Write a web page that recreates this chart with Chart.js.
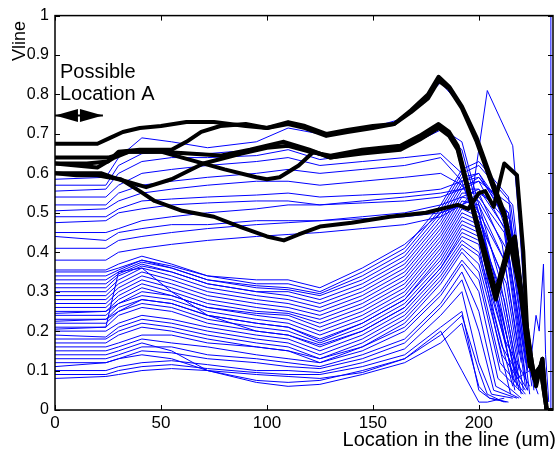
<!DOCTYPE html>
<html>
<head>
<meta charset="utf-8">
<script src="https://cdn.jsdelivr.net/npm/chart.js@4/dist/chart.umd.min.js"></script>
<style>
  html, body { margin: 0; padding: 0; background: #fff; }
</style>
</head>
<body>
<canvas id="chart" width="558" height="449"></canvas>
<script>
// tick labels
const xTicks = [0, 50, 100, 150, 200];
const yTicks = [0, 0.1, 0.2, 0.3, 0.4, 0.5, 0.6, 0.7, 0.8, 0.9, 1];
const yTickLabels = ['0', '0.1', '0.2', '0.3', '0.4', '0.5', '0.6', '0.7', '0.8', '0.9', '1'];

// shared x locations of the thin blue runs (um), up to the peak region
const locs = [0, 24, 30, 41, 55, 72, 95, 110, 125, 145, 165, 182, 192, 200];

// thin blue runs: Vline at each of locs, then the two tail values
const blueRuns = [
  [.08, .085, .09, .10, .105, .10, .09, .085, .08, .095, .13, .20, .10, .02, .02, .03],
  [.09, .09, .10, .11, .115, .105, .095, .09, .09, .11, .14, .21, .25, .05, .03, .02],
  [.10, .10, .11, .12, .125, .115, .10, .10, .095, .12, .155, .24, .30, .12, .04, .03],
  [.11, .12, .13, .14, .13, .10, .07, .06, .065, .09, .12, .17, .22, .06, .03, .02],
  [.12, .12, .13, .15, .145, .13, .12, .11, .105, .13, .17, .26, .33, .20, .05, .03],
  [.13, .13, .14, .16, .16, .14, .13, .12, .11, .14, .18, .27, .35, .25, .06, .03],
  [.14, .14, .15, .17, .15, .10, .075, .07, .075, .10, .13, .19, .24, .10, .04, .02],
  [.15, .15, .16, .18, .17, .16, .14, .13, .12, .15, .20, .29, .37, .30, .08, .03],
  [.16, .16, .17, .19, .19, .17, .16, .15, .13, .16, .21, .30, .38, .33, .10, .04],
  [.17, .17, .19, .21, .20, .18, .16, .15, .12, .16, .22, .32, .40, .35, .12, .04],
  [.18, .18, .20, .22, .21, .19, .17, .16, .13, .17, .23, .33, .41, .37, .14, .05],
  [.19, .185, .21, .23, .22, .20, .18, .17, .14, .18, .24, .34, .42, .39, .16, .05],
  [.20, .20, .22, .24, .23, .21, .19, .18, .15, .19, .25, .35, .43, .40, .18, .06],
  [.205, .21, .35, .36, .30, .24, .20, .19, .16, .20, .26, .36, .44, .42, .20, .04],
  [.21, .21, .24, .26, .25, .22, .20, .19, .165, .20, .26, .36, .45, .43, .22, .07],
  [.22, .22, .25, .27, .26, .23, .21, .20, .17, .21, .27, .37, .46, .44, .24, .05],
  [.225, .23, .25, .28, .27, .24, .22, .21, .175, .22, .28, .38, .47, .45, .26, .08],
  [.23, .23, .26, .28, .27, .24, .22, .21, .18, .22, .28, .39, .48, .46, .28, .04],
  [.24, .24, .27, .29, .28, .25, .23, .22, .19, .23, .29, .40, .49, .47, .30, .09],
  [.245, .25, .27, .30, .29, .26, .24, .23, .20, .24, .30, .41, .50, .48, .32, .05],
  [.25, .25, .28, .31, .29, .26, .245, .24, .21, .25, .31, .42, .51, .49, .34, .10],
  [.26, .26, .29, .32, .30, .27, .25, .245, .22, .26, .32, .43, .52, .50, .36, .06],
  [.27, .27, .30, .33, .31, .28, .26, .25, .23, .27, .33, .44, .53, .52, .38, .12],
  [.28, .28, .31, .34, .32, .29, .27, .26, .24, .28, .34, .45, .54, .53, .40, .05],
  [.29, .29, .32, .35, .33, .30, .28, .27, .25, .29, .35, .46, .55, .55, .42, .14],
  [.30, .30, .33, .36, .34, .31, .29, .28, .26, .30, .36, .47, .56, .56, .44, .04],
  [.31, .31, .34, .365, .35, .32, .30, .29, .27, .31, .37, .48, .57, .58, .46, .16],
  [.32, .32, .345, .37, .35, .32, .30, .30, .28, .32, .38, .49, .58, .59, .48, .06],
  [.33, .33, .35, .375, .36, .33, .31, .305, .29, .33, .39, .50, .59, .60, .50, .18],
  [.34, .34, .355, .38, .36, .33, .315, .31, .295, .34, .40, .51, .60, .62, .52, .05],
  [.35, .35, .36, .38, .365, .34, .32, .32, .30, .35, .41, .52, .61, .63, .54, .10],
  [.38, .38, .40, .41, .42, .43, .44, .445, .45, .46, .47, .49, .52, .54, .45, .08],
  [.41, .41, .43, .44, .45, .46, .47, .475, .48, .49, .50, .52, .54, .56, .48, .10],
  [.44, .43, .45, .46, .47, .47, .48, .48, .48, .485, .49, .50, .52, .55, .50, .12],
  [.45, .45, .46, .48, .49, .50, .51, .52, .52, .53, .54, .55, .56, .58, .52, .14],
  [.475, .48, .50, .51, .52, .525, .53, .53, .52, .525, .53, .54, .56, .59, .50, .12],
  [.49, .49, .51, .53, .535, .54, .545, .55, .54, .545, .55, .56, .58, .60, .45, .10],
  [.505, .51, .53, .55, .56, .57, .58, .58, .57, .58, .59, .60, .57, .50, .30, .08],
  [.52, .52, .55, .57, .58, .59, .60, .61, .60, .61, .62, .64, .58, .45, .25, .06],
  [.54, .54, .57, .60, .61, .62, .63, .64, .62, .63, .64, .65, .60, .50, .30, .05],
  [.555, .56, .60, .63, .64, .64, .645, .66, .635, .65, .665, .71, .66, .50, .30, .06],
  [.57, .57, .62, .65, .655, .65, .66, .67, .645, .655, .67, .715, .68, .52, .33, .08],
  [.585, .59, .64, .69, .68, .665, .68, .715, .70, .71, .74, .83, .77, .66, .47, .12]
];
// x of the two tail points of each blue run (where it falls away)
const dropX = [204, 205, 206, 205, 207, 208, 204, 209, 210, 210, 211, 211, 212,
  208, 210, 211, 209, 212, 210, 213, 211, 214, 212, 214, 211, 215, 212, 215, 213, 216, 214,
  212, 213, 214, 215, 214, 216, 208, 207, 208, 209, 210, 212];
const endX = [212, 214, 216, 213, 218, 219, 212, 220, 221, 222, 222, 223, 224,
  215, 217, 219, 216, 220, 218, 221, 219, 222, 220, 223, 219, 224, 221, 225, 222, 226, 223,
  222, 223, 224, 225, 224, 226, 218, 216, 217, 218, 219, 222];

// odd blue runs with their own locations
const peakRunX = [0, 24, 30, 41, 55, 72, 95, 110, 125, 145, 165, 182, 192, 197, 204, 210, 216, 219, 224, 228];
const peakRunY = [.355, .355, .37, .39, .37, .34, .33, .33, .31, .36, .42, .50, .52, .55, .81, .74, .67, .48, .10, .04];
const spikeRunX = [218, 224, 227, 228.5, 230.5, 231.5, 233];
const spikeRunY = [.08, .10, .24, .20, .37, .14, .02];
const edgeRunX = [234, 234];
const edgeRunY = [0, 1];

// thick black runs
const black1X = [0, 20, 26, 32, 40, 50, 62, 75, 90, 100, 110, 118, 128, 138, 150, 160, 168, 176, 181, 186, 192, 199, 205, 212, 220, 223, 225, 227, 230, 232, 235];
const black1Y = [.675, .675, .69, .705, .715, .72, .73, .73, .72, .715, .73, .72, .70, .71, .72, .725, .76, .80, .845, .82, .77, .69, .60, .50, .30, .20, .12, .06, .13, 0, 0];
const black2X = [0, 15, 25, 30, 40, 55, 62, 69, 78, 90, 100, 110, 118, 128, 138, 150, 160, 168, 176, 181, 186, 192, 199, 205, 212, 220, 223, 226, 229, 232, 235];
const black2Y = [.625, .625, .63, .655, .66, .66, .68, .705, .72, .725, .715, .725, .715, .695, .705, .715, .725, .755, .79, .835, .815, .765, .68, .59, .49, .29, .19, .09, .11, 0, 0];
const black3X = [0, 10, 20, 28, 35, 50, 65, 78, 92, 100, 108, 120, 130, 145, 163, 172, 181, 186, 190, 197, 204, 208, 214, 217, 221, 224, 227, 230, 232, 235];
const black3Y = [.625, .62, .615, .64, .655, .655, .65, .645, .66, .67, .68, .66, .64, .655, .665, .69, .72, .70, .665, .515, .37, .29, .41, .43, .25, .12, .07, .13, 0, 0];
const black4X = [0, 25, 35, 50, 60, 80, 95, 100, 106, 115, 122, 130, 145, 163, 172, 181, 186, 190, 197, 204, 208, 214, 217, 221, 224];
const black4Y = [.64, .64, .655, .655, .64, .61, .59, .585, .59, .62, .655, .64, .65, .66, .685, .715, .695, .66, .51, .36, .28, .40, .42, .24, .11];
const black5X = [0, 22, 30, 43, 55, 70, 88, 100, 110, 120, 130, 145, 163, 172, 181, 186, 190, 197, 204, 208, 214, 217, 221, 224];
const black5Y = [.60, .60, .585, .565, .585, .625, .65, .665, .67, .655, .645, .66, .67, .695, .725, .705, .67, .52, .38, .30, .42, .44, .26, .13];
const black6X = [0, 10, 20, 25, 31, 40, 47, 60, 75, 88, 100, 108, 115, 125, 140, 158, 175, 190, 195, 200, 203, 207, 212, 218, 221, 223, 226, 229, 232, 235];
const black6Y = [.60, .595, .595, .59, .585, .555, .53, .505, .49, .463, .44, .43, .445, .465, .475, .49, .50, .52, .51, .55, .555, .515, .625, .595, .40, .18, .08, .11, 0, 0];

function pairs(xs, ys) {
  return xs.map((x, i) => ({ x: x, y: ys[i] }));
}

const datasets = [];
[
  [black1X, black1Y], [black2X, black2Y], [black3X, black3Y],
  [black4X, black4Y], [black5X, black5Y], [black6X, black6Y]
].forEach(([xs, ys]) => {
  datasets.push({
    data: pairs(xs, ys),
    borderColor: '#000000',
    borderWidth: 4,
    borderJoinStyle: 'round',
    borderCapStyle: 'round',
    order: 0,
  });
});
blueRuns.forEach((ys, i) => {
  const xs = locs.concat([dropX[i], endX[i]]);
  datasets.push({ data: pairs(xs, ys), borderColor: '#0000ff', borderWidth: 1, order: 1 });
});
[[peakRunX, peakRunY], [spikeRunX, spikeRunY], [edgeRunX, edgeRunY]].forEach(([xs, ys]) => {
  datasets.push({ data: pairs(xs, ys), borderColor: '#0000ff', borderWidth: 1, order: 1 });
});

const frame = {
  id: 'frame',
  afterDraw(chart) {
    const ctx = chart.ctx;
    const a = chart.chartArea;
    const xs = chart.scales.x;
    const ys = chart.scales.y;
    ctx.save();
    ctx.strokeStyle = '#000';
    ctx.lineWidth = 1.5;
    ctx.strokeRect(a.left, a.top, a.right - a.left, a.bottom - a.top);
    ctx.lineWidth = 1;
    ctx.beginPath();
    xTicks.forEach((v) => {
      const p = Math.round(xs.getPixelForValue(v)) + 0.5;
      ctx.moveTo(p, a.bottom); ctx.lineTo(p, a.bottom - 5);
      ctx.moveTo(p, a.top); ctx.lineTo(p, a.top + 5);
    });
    yTicks.forEach((v) => {
      const p = Math.round(ys.getPixelForValue(v)) + 0.5;
      ctx.moveTo(a.left, p); ctx.lineTo(a.left + 5, p);
      ctx.moveTo(a.right, p); ctx.lineTo(a.right - 5, p);
    });
    ctx.stroke();

    // axis titles
    ctx.fillStyle = '#000';
    ctx.font = '20px "Liberation Sans", Arial, sans-serif';
    ctx.textAlign = 'right';
    ctx.textBaseline = 'alphabetic';
    ctx.fillText('Location in the line (um)', 556, 446);
    ctx.save();
    ctx.translate(25, 41);
    ctx.rotate(-Math.PI / 2);
    ctx.textAlign = 'center';
    ctx.font = '18px "Liberation Sans", Arial, sans-serif';
    ctx.fillText('Vline', 0, 0);
    ctx.restore();

    // annotation
    ctx.textAlign = 'left';
    ctx.font = '20px "Liberation Sans", Arial, sans-serif';
    ctx.fillText('Possible', 60, 78);
    ctx.fillText('Location A', 60, 100);
    const ay = ys.getPixelForValue(0.747);
    const x0 = xs.getPixelForValue(0);
    const x1 = xs.getPixelForValue(22.6);
    const mid = (x0 + x1) / 2;
    ctx.lineWidth = 2;
    ctx.beginPath();
    ctx.moveTo(x0, ay); ctx.lineTo(x1, ay);
    ctx.stroke();
    ctx.beginPath();
    ctx.moveTo(x0, ay); ctx.lineTo(mid - 1, ay - 6.5); ctx.lineTo(mid - 1, ay + 6.5); ctx.closePath();
    ctx.moveTo(x1, ay); ctx.lineTo(mid + 1, ay - 6.5); ctx.lineTo(mid + 1, ay + 6.5); ctx.closePath();
    ctx.fill();
    ctx.restore();
  }
};

new Chart(document.getElementById('chart'), {
  type: 'line',
  data: { datasets: datasets },
  options: {
    responsive: false,
    animation: false,
    layout: { padding: { top: 15, right: 5, left: 0, bottom: 0 } },
    plugins: { legend: { display: false }, tooltip: { enabled: false } },
    elements: { point: { radius: 0 }, line: { tension: 0 } },
    scales: {
      x: {
        type: 'linear',
        min: 0,
        max: 235,
        grid: { display: false, drawTicks: false },
        border: { display: false },
        afterBuildTicks: (s) => { s.ticks = xTicks.map((v) => ({ value: v })); },
        afterFit: (s) => { s.height = 39; },
        ticks: {
          color: '#000',
          font: { family: '"Liberation Sans", Arial, sans-serif', size: 17 },
          padding: 3,
          maxRotation: 0,
          autoSkip: false,
          callback: (v) => String(v),
        },
      },
      y: {
        min: 0,
        max: 1,
        grid: { display: false, drawTicks: false },
        border: { display: false },
        afterBuildTicks: (s) => { s.ticks = yTicks.map((v) => ({ value: v })); },
        afterFit: (s) => { s.width = 55; },
        ticks: {
          color: '#000',
          font: { family: '"Liberation Sans", Arial, sans-serif', size: 16 },
          padding: 6,
          autoSkip: false,
          callback: (v, i) => yTickLabels[i],
        },
      },
    },
  },
  plugins: [frame],
});
</script>
</body>
</html>
